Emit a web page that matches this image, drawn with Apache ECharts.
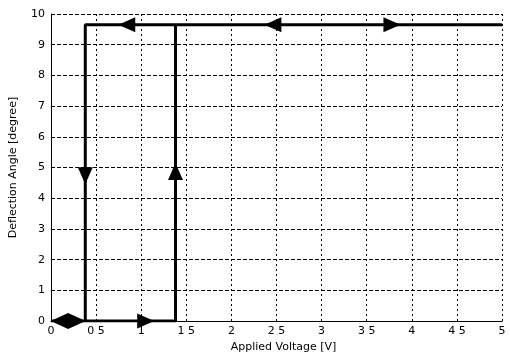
<!DOCTYPE html>
<html><head><meta charset="utf-8">
<script src="https://cdn.jsdelivr.net/npm/echarts@6/dist/echarts.min.js"></script>
<style>html,body{margin:0;padding:0;background:#fff}#c{width:510px;height:358px}</style>
</head><body><div id="c"></div>
<script>
// Hysteresis loop path (applied voltage V, deflection angle deg)
const loopX = [0, 1.38, 1.38, 5, 0.38, 0.38, 0];
const loopY = [0, 0, 9.65, 9.65, 9.65, 0, 0];
// Direction arrows: position and direction
const arrowX = [1.05, 1.38, 0.38, 0.84, 2.46, 3.78];
const arrowY = [0, 4.87, 4.73, 9.65, 9.65, 9.65];
const arrowDir = ['right', 'up', 'down', 'left', 'left', 'right'];
// Diamond marker at the origin segment
const diamondX = [0.19];
const diamondY = [0];
const xTickLabels = ['0', '0 5', '1', '1 5', '2', '2 5', '3', '3 5', '4', '4 5', '5'];
const yTickLabels = ['0', '1', '2', '3', '4', '5', '6', '7', '8', '9', '10'];

const rot = {up: 0, down: 180, left: 90, right: -90};
const font = 'DejaVu Sans';
const chart = echarts.init(document.getElementById('c'));
chart.setOption({
  animation: false,
  grid: {left: 48, right: 8, top: 14, bottom: 32},
  xAxis: {
    type: 'value', min: 0, max: 5, interval: 0.5,
    name: 'Applied Voltage [V]', nameLocation: 'middle', nameGap: 18,
    nameTextStyle: {color: '#000', fontFamily: font, fontSize: 11, padding: [0, 0, 0, 14]},
    axisLine: {show: true, lineStyle: {color: '#000', width: 1}},
    axisTick: {show: false},
    axisLabel: {color: '#000', fontFamily: font, fontSize: 11, margin: 5,
      formatter: v => xTickLabels[Math.round(v / 0.5)]},
    splitLine: {show: true, lineStyle: {color: '#000', width: 1, type: [2, 3]}}
  },
  yAxis: {
    type: 'value', min: 0, max: 10, interval: 1,
    name: 'Deflection Angle [degree]', nameLocation: 'middle', nameGap: 32,
    nameTextStyle: {color: '#000', fontFamily: font, fontSize: 11},
    axisLine: {show: true, lineStyle: {color: '#000', width: 1}},
    axisTick: {show: false},
    axisLabel: {color: '#000', fontFamily: font, fontSize: 11, margin: 6,
      formatter: v => yTickLabels[Math.round(v)]},
    splitLine: {show: true, lineStyle: {color: '#000', width: 1, type: [4, 2]}}
  },
  series: [
    {
      type: 'line', data: loopX.map((x, i) => [x, loopY[i]]),
      showSymbol: false, symbol: 'none',
      lineStyle: {color: '#000', width: 3}, z: 3
    },
    {
      type: 'scatter',
      data: arrowX.map((x, i) => ({value: [x, arrowY[i]], symbolRotate: rot[arrowDir[i]]})),
      symbol: 'triangle', symbolSize: [15, 17],
      itemStyle: {color: '#000', opacity: 1}, z: 4
    },
    {
      type: 'scatter', data: diamondX.map((x, i) => [x, diamondY[i]]),
      symbol: 'diamond', symbolSize: [35, 16],
      itemStyle: {color: '#000', opacity: 1}, z: 4
    }
  ]
});
</script></body></html>
